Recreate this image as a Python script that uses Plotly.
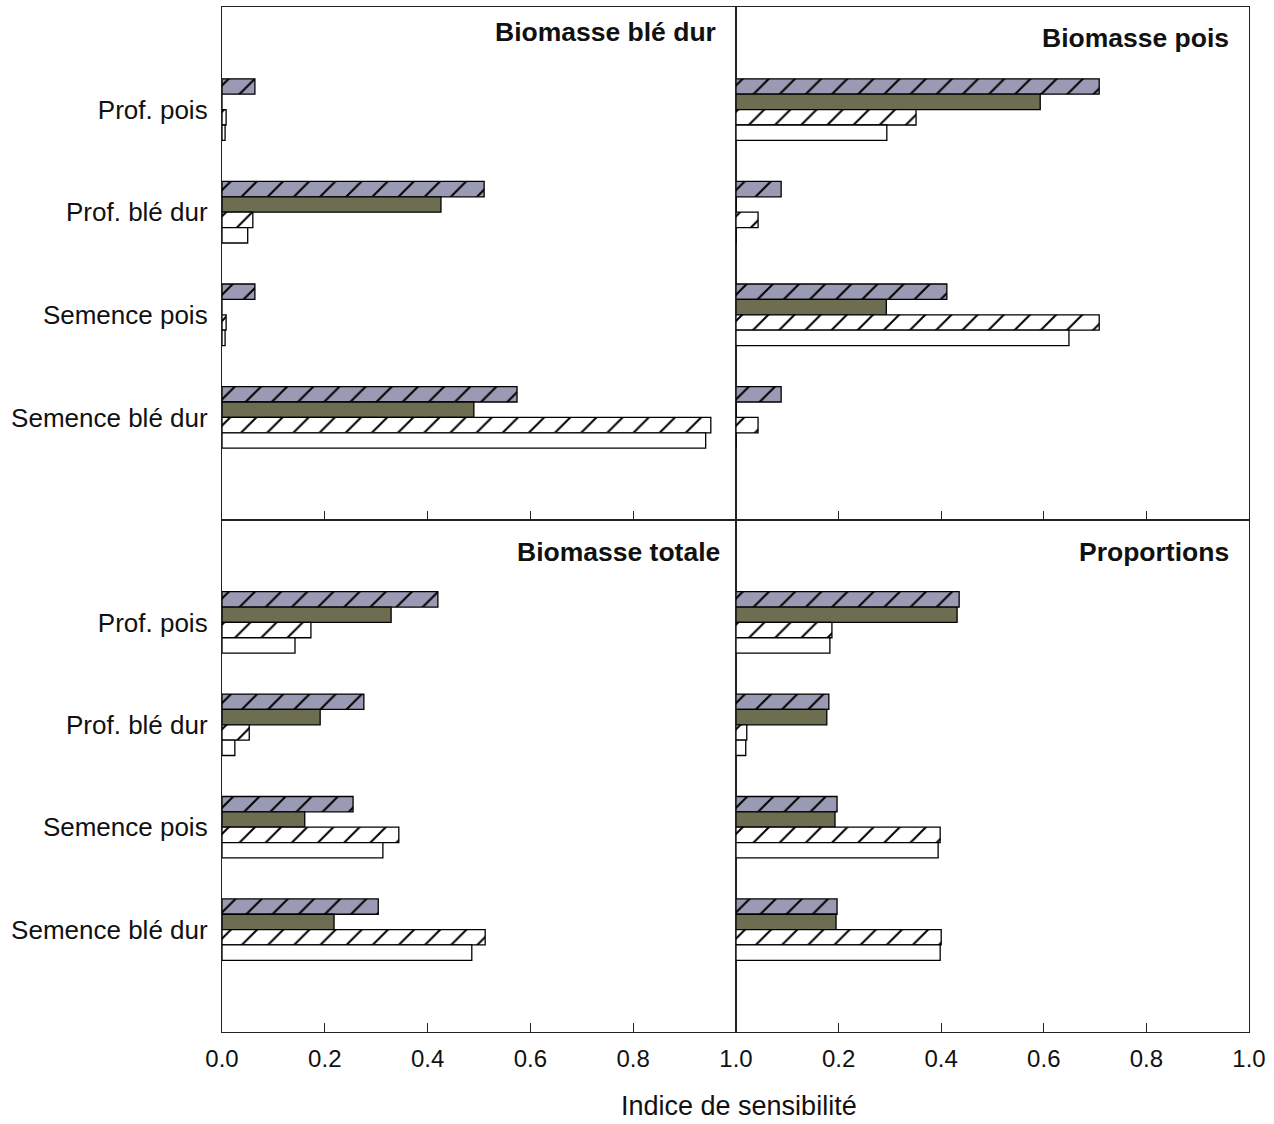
import plotly.graph_objects as go

categories = ["Prof. pois", "Prof. blé dur", "Semence pois", "Semence blé dur"]
cat_pos = [0, 1, 2, 3]
panel_titles = ["Biomasse blé dur", "Biomasse pois", "Biomasse totale", "Proportions"]
x_tickvals_left = [0.0, 0.2, 0.4, 0.6, 0.8, 1.0]
x_tickvals_right = [0.2, 0.4, 0.6, 0.8, 1.0]
x_title = "Indice de sensibilité"

# series values per panel (order of categories above)
ble_s1 = [0.064, 0.510, 0.064, 0.574]
ble_s2 = [0.0, 0.426, 0.0, 0.490]
ble_s3 = [0.008, 0.060, 0.008, 0.951]
ble_s4 = [0.006, 0.050, 0.006, 0.941]

pois_s1 = [0.708, 0.088, 0.411, 0.088]
pois_s2 = [0.593, 0.0, 0.293, 0.0]
pois_s3 = [0.351, 0.043, 0.708, 0.043]
pois_s4 = [0.294, 0.0, 0.649, 0.0]

tot_s1 = [0.420, 0.276, 0.255, 0.304]
tot_s2 = [0.329, 0.191, 0.161, 0.218]
tot_s3 = [0.173, 0.053, 0.344, 0.512]
tot_s4 = [0.142, 0.025, 0.313, 0.486]

prop_s1 = [0.435, 0.181, 0.197, 0.197]
prop_s2 = [0.431, 0.177, 0.193, 0.195]
prop_s3 = [0.187, 0.021, 0.398, 0.400]
prop_s4 = [0.183, 0.019, 0.394, 0.398]

panels = [
    [ble_s1, ble_s2, ble_s3, ble_s4],
    [pois_s1, pois_s2, pois_s3, pois_s4],
    [tot_s1, tot_s2, tot_s3, tot_s4],
    [prop_s1, prop_s2, prop_s3, prop_s4],
]

W, H = 1274, 1124
PURPLE = "#9a9ab4"
OLIVE = "#6d6d52"
LINE = "#222222"
FONT = "Liberation Sans, Arial, sans-serif"

styles = [
    dict(color=PURPLE, pattern=dict(shape="/", fgcolor="black", bgcolor=PURPLE, size=18.5, solidity=0.11, fillmode="replace")),
    dict(color=OLIVE),
    dict(color="white", pattern=dict(shape="/", fgcolor="black", bgcolor="white", size=18.5, solidity=0.11, fillmode="replace")),
    dict(color="white"),
]

fig = go.Figure()

# pixel geometry
xl0, xm, xr1 = 222, 736, 1249
yt0, ym, yb1 = 7, 520, 1032

def px_x(p):
    return p / W

def px_y(p):
    return 1 - p / H

domains = [
    ([px_x(xl0), px_x(xm)], [px_y(ym), px_y(yt0)]),
    ([px_x(xm), px_x(xr1)], [px_y(ym), px_y(yt0)]),
    ([px_x(xl0), px_x(xm)], [px_y(yb1), px_y(ym)]),
    ([px_x(xm), px_x(xr1)], [px_y(yb1), px_y(ym)]),
]

layout = {}
for i, (series, (dx, dy)) in enumerate(zip(panels, domains)):
    n = i + 1
    xa = "x" if n == 1 else f"x{n}"
    ya = "y" if n == 1 else f"y{n}"
    for s, st in zip(series, styles):
        fig.add_trace(go.Bar(
            x=s, y=cat_pos, orientation="h", xaxis=xa, yaxis=ya,
            marker=dict(line=dict(color="black", width=1.3), **st),
            showlegend=False, hoverinfo="x+y",
        ))
    bottom = i >= 2
    left = i % 2 == 0
    tv = x_tickvals_left if left else x_tickvals_right
    layout["xaxis" if n == 1 else f"xaxis{n}"] = dict(
        domain=dx, anchor=ya, range=[0, 1], automargin=False,
        tickvals=tv, ticktext=[f"{v:.1f}" for v in tv],
        showticklabels=bottom,
        ticks="inside", ticklen=9, tickcolor=LINE, tickwidth=1.2,
        showline=True, mirror=True, linecolor=LINE, linewidth=1.3,
        showgrid=False, zeroline=False,
        tickfont=dict(family=FONT, size=24, color="#111"),
        ticklabelstandoff=5,
    )
    layout["yaxis" if n == 1 else f"yaxis{n}"] = dict(
        domain=dy, anchor=xa, range=[4, -1], automargin=False,
        tickvals=cat_pos, ticktext=categories, showticklabels=left,
        ticks="", showline=True, mirror=True, linecolor=LINE, linewidth=1.3,
        showgrid=False, zeroline=False,
        tickfont=dict(family=FONT, size=26, color="#111"),
        ticklabelstandoff=8,
    )

title_pos = [(718, 32), (1231, 38), (722, 552), (1231, 552)]
annotations = []
for t, (px, py) in zip(panel_titles, title_pos):
    annotations.append(dict(
        text=f"<b>{t}</b>", x=px_x(px), y=px_y(py), xref="paper", yref="paper",
        xanchor="right", yanchor="middle", showarrow=False,
        font=dict(family=FONT, size=26.5, color="#111"),
    ))
annotations.append(dict(
    text=x_title, x=px_x(739), y=px_y(1106), xref="paper", yref="paper",
    xanchor="center", yanchor="middle", showarrow=False,
    font=dict(family=FONT, size=27, color="#111"),
))

fig.update_layout(
    width=W, height=H, margin=dict(l=0, r=0, t=0, b=0, pad=0),
    paper_bgcolor="white", plot_bgcolor="white",
    barmode="group", bargap=0.4, bargroupgap=0,
    annotations=annotations, **layout,
)

fig.write_html(
    "out.html",
    config={"displayModeBar": False},
    post_script="document.body.style.margin='0';document.body.style.overflow='hidden';",
)
